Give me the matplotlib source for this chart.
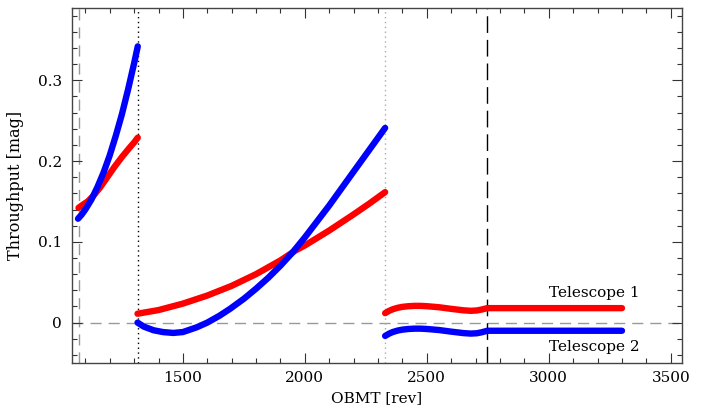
import matplotlib
matplotlib.use("Agg")
import matplotlib.pyplot as plt
from matplotlib.ticker import MultipleLocator

# segment 1 (before first decontamination)
x1_red = [1072, 1090, 1110, 1133, 1160, 1190, 1220, 1250, 1280, 1300, 1315]
t1_a = [0.142, 0.146, 0.150, 0.157, 0.167, 0.180, 0.193, 0.205, 0.216, 0.223, 0.229]
x1_blue = [1070, 1085, 1100, 1125, 1150, 1175, 1200, 1225, 1250, 1275, 1300, 1315]
t2_a = [0.1286, 0.1337, 0.140, 0.1524, 0.168, 0.186, 0.207, 0.2314, 0.258, 0.2883, 0.321, 0.342]

# segment 2
x2_red = [1314, 1400, 1500, 1600, 1700, 1800, 1900, 1960, 2000, 2100, 2200, 2265, 2329]
t1_b = [0.011, 0.0155, 0.0235, 0.0335, 0.0455, 0.060, 0.077, 0.089, 0.0955, 0.1140, 0.1340,
        0.1475, 0.1615]
x2_blue = [1314, 1340, 1380, 1420, 1461, 1500, 1557, 1600, 1650, 1693, 1750, 1800, 1850,
           1900, 1950, 2000, 2100, 2200, 2329]
t2_b = [0.000, -0.005, -0.0095, -0.0118, -0.0128, -0.0117, -0.0058, 0.000, 0.0085, 0.0170,
        0.0295, 0.0420, 0.0555, 0.0705, 0.0870, 0.1055, 0.145, 0.187, 0.241]

# segment 3
x3 = [2329, 2345, 2360, 2380, 2400, 2425, 2450, 2475, 2500, 2550, 2600, 2650, 2680,
      2705, 2725, 2748, 3300]
t1_c = [0.0117, 0.0145, 0.0165, 0.0183, 0.0195, 0.0203, 0.0207, 0.0207, 0.0203, 0.0190,
        0.0170, 0.0152, 0.0146, 0.0150, 0.0162, 0.0179, 0.0179]
t2_c = [-0.0165, -0.0137, -0.0117, -0.0099, -0.0087, -0.0079, -0.0075, -0.0075, -0.0079,
        -0.0092, -0.0112, -0.0130, -0.0136, -0.0132, -0.0120, -0.0101, -0.0101]

events_dotted = 1314
events_grey = 2329
events_dashed = 2748
start_line = 1075

plt.rcParams['font.family'] = 'DejaVu Serif'

fig = plt.figure(figsize=(7.05, 4.09), dpi=100)
ax = fig.add_axes([0.102, 0.1125, 0.865, 0.869])

ax.axhline(0, color='#999999', lw=1, ls=(0, (8, 5)), zorder=1)
ax.axvline(start_line, color='#999999', lw=1, ls=(0, (8, 5)), zorder=1)
ax.axvline(events_dotted, color='black', lw=1, ls=(0, (1, 2.5)), zorder=1)
ax.axvline(events_grey, color='#aaaaaa', lw=1, ls=(0, (1, 2.5)), zorder=1)
ax.axvline(events_dashed, color='black', lw=1, ls=(0, (12, 5)), zorder=1)

segments = [(x1_red, t1_a, x1_blue, t2_a),
            (x2_red, t1_b, x2_blue, t2_b),
            (x3, t1_c, x3, t2_c)]
for xr, r, xb, b in segments:
    ax.plot(xr, r, color='red', lw=4.6, solid_capstyle='round', solid_joinstyle='round', zorder=3)
    ax.plot(xb, b, color='blue', lw=4.6, solid_capstyle='round', solid_joinstyle='round', zorder=3)

ax.text(3000, 0.037, 'Telescope 1', fontsize=11, va='center', ha='left')
ax.text(3000, -0.030, 'Telescope 2', fontsize=11, va='center', ha='left')

ax.set_xlim(1045, 3545)
ax.set_ylim(-0.05, 0.39)
ax.xaxis.set_major_locator(MultipleLocator(500))
ax.xaxis.set_minor_locator(MultipleLocator(100))
ax.yaxis.set_minor_locator(MultipleLocator(0.02))
ax.set_yticks([0, 0.1, 0.2, 0.3])
ax.set_yticklabels(['0', '0.1', '0.2', '0.3'])
ax.tick_params(which='both', direction='in', top=True, right=True, colors='#333333',
               labelcolor='black', labelsize=11)
ax.tick_params(which='major', length=7, width=0.8)
ax.tick_params(which='minor', length=3.5, width=0.8)
ax.tick_params(axis='y', which='major', pad=7)
ax.tick_params(axis='x', which='major', pad=6)
for s in ax.spines.values():
    s.set_color('#444444')
    s.set_linewidth(1)

ax.set_xlabel('OBMT [rev]', fontsize=11, labelpad=4)
ax.set_ylabel('Throughput [mag]', fontsize=11.5, labelpad=10)

fig.savefig('out.png', dpi=100)
